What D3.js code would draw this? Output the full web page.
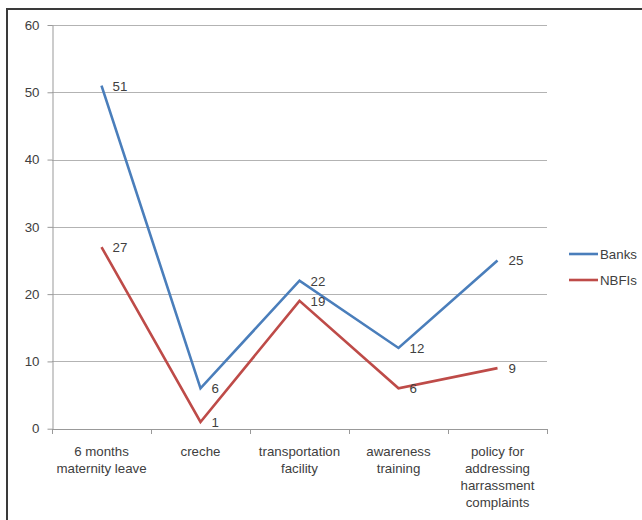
<!DOCTYPE html>
<html>
<head>
<meta charset="utf-8">
<script src="https://cdn.jsdelivr.net/npm/d3@7"></script>
<style>
  html, body { margin: 0; padding: 0; background: #fff; }
  svg { display: block; }
  text { font-family: "Liberation Sans", Arial, sans-serif; fill: #404040; }
</style>
</head>
<body>
<svg id="chart" width="642" height="520"></svg>
<script>
// Facilities offered to women employees, by type of institution
const categories = [
  ["6 months", "maternity leave"],
  ["creche"],
  ["transportation", "facility"],
  ["awareness", "training"],
  ["policy for", "addressing", "harrassment", "complaints"]
];
const banks = [51, 6, 22, 12, 25];
const nbfis = [27, 1, 19, 6, 9];
const yTicks = [0, 10, 20, 30, 40, 50, 60];
const seriesNames = ["Banks", "NBFIs"];
const seriesColors = ["#4A7EBB", "#BE4B48"];

const svg = d3.select("#chart");
const margin = { left: 52, right: 95, top: 25.5, bottom: 91 };
const W = 642, H = 520;
const fs = "13.3px";

// outer frame (top and left edges)
svg.append("path")
  .attr("d", `M7,${H} L7,9 L${W},9`)
  .attr("fill", "none").attr("stroke", "#3a3a3a").attr("stroke-width", 2);

const x = d3.scaleBand()
  .domain(d3.range(categories.length))
  .range([margin.left, 547])
  .paddingInner(0).paddingOuter(0);

const y = d3.scaleLinear().domain([0, 60]).range([428.7, 25]);

// horizontal gridlines
svg.append("g").selectAll("line").data(yTicks.filter(d => d > 0)).join("line")
  .attr("x1", margin.left).attr("x2", 547)
  .attr("y1", d => Math.round(y(d)) + 0.5).attr("y2", d => Math.round(y(d)) + 0.5)
  .attr("stroke", "#b3b3b3").attr("stroke-width", 1);

// y axis
const yAxis = svg.append("g")
  .attr("transform", `translate(${margin.left + 0.5},0)`)
  .call(d3.axisLeft(y).tickValues(yTicks).tickSize(5).tickPadding(8).tickSizeOuter(0));
yAxis.select(".domain").attr("stroke", "#999");
yAxis.selectAll(".tick line").attr("stroke", "#999");
yAxis.selectAll(".tick text")
  .style("font-size", fs).attr("fill", "#404040")
  .attr("font-family", "Liberation Sans, Arial, sans-serif");

// x axis with boundary tick marks
const xb = svg.append("g");
xb.append("line")
  .attr("x1", margin.left).attr("x2", 547)
  .attr("y1", Math.round(y(0)) + 0.5).attr("y2", Math.round(y(0)) + 0.5)
  .attr("stroke", "#999");
const bounds = d3.range(categories.length + 1).map(i => i < categories.length ? x(i) : x(i - 1) + x.bandwidth());
xb.selectAll("line.tk").data(bounds).join("line").attr("class", "tk")
  .attr("x1", d => Math.round(d) + 0.5).attr("x2", d => Math.round(d) + 0.5)
  .attr("y1", Math.round(y(0))).attr("y2", Math.round(y(0)) + 5)
  .attr("stroke", "#999");

// category labels
const catG = svg.append("g");
categories.forEach((lines, i) => {
  const t = catG.append("text")
    .attr("x", x(i) + x.bandwidth() / 2)
    .attr("y", 455.5)
    .attr("text-anchor", "middle")
    .style("font-size", fs);
  lines.forEach((ln, j) => {
    t.append("tspan")
      .attr("x", x(i) + x.bandwidth() / 2)
      .attr("dy", j === 0 ? 0 : 17)
      .text(ln);
  });
});

// series lines
const cx = i => x(i) + x.bandwidth() / 2;
const line = d3.line().x((d, i) => cx(i)).y(d => y(d));
[banks, nbfis].forEach((vals, s) => {
  svg.append("path")
    .datum(vals)
    .attr("d", line)
    .attr("fill", "none")
    .attr("stroke", seriesColors[s])
    .attr("stroke-width", 2.6)
    .attr("stroke-linejoin", "miter");
});

// value labels to the right of each point
[banks, nbfis].forEach((vals, s) => {
  svg.append("g").selectAll("text").data(vals).join("text")
    .attr("x", (d, i) => cx(i) + 11)
    .attr("y", d => y(d) + 5)
    .style("font-size", fs)
    .text(d => d);
});

// legend
const lg = svg.append("g");
seriesNames.forEach((name, s) => {
  const ly = 254 + s * 26;
  lg.append("line")
    .attr("x1", 569).attr("x2", 598)
    .attr("y1", ly).attr("y2", ly)
    .attr("stroke", seriesColors[s]).attr("stroke-width", 2.6);
  lg.append("text")
    .attr("x", 600).attr("y", ly + 5)
    .style("font-size", fs)
    .text(name);
});
</script>
</body>
</html>
